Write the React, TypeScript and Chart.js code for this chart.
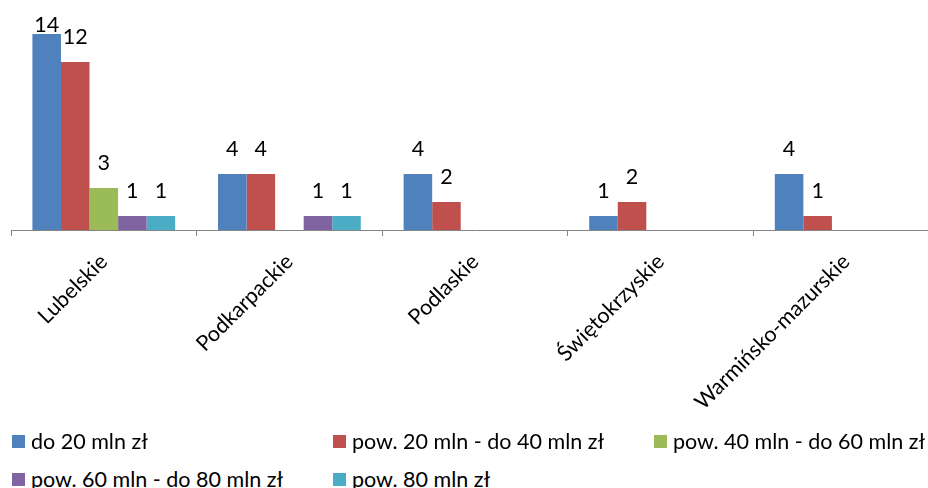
import React, { useEffect, useRef } from "react";
import { Chart, registerables } from "chart.js";

Chart.register(...registerables);

const regions = ["Lubelskie", "Podkarpackie", "Podlaskie", "Świętokrzyskie", "Warmińsko-mazurskie"];

const seriesNames = [
  "do 20 mln zł",
  "pow. 20 mln - do 40 mln zł",
  "pow. 40 mln - do 60 mln zł",
  "pow. 60 mln - do 80 mln zł",
  "pow. 80 mln zł",
];
const seriesColors = ["#4F81BD", "#C0504D", "#9BBB59", "#8064A2", "#4BACC6"];

const do20 = [14, 4, 4, 1, 4];
const pow20do40 = [12, 4, 2, 2, 1];
const pow40do60 = [3, null, null, null, null];
const pow60do80 = [1, 1, null, null, null];
const pow80 = [1, 1, null, null, null];

const seriesValues = [do20, pow20do40, pow40do60, pow60do80, pow80];

const FONT = "Lato, 'Open Sans', sans-serif";
const FONT_SIZE = 21.5;

// Writes each bar's value above it, kept inside the top of the plot
const valueLabels = {
  id: "valueLabels",
  afterDatasetsDraw(chart: any) {
    const ctx = chart.ctx;
    ctx.save();
    ctx.font = `${FONT_SIZE}px ${FONT}`;
    ctx.fillStyle = "#000";
    ctx.textAlign = "center";
    ctx.textBaseline = "alphabetic";
    chart.data.datasets.forEach((ds: any, i: number) => {
      const meta = chart.getDatasetMeta(i);
      meta.data.forEach((bar: any, j: number) => {
        const v = ds.data[j];
        if (v === null || v === undefined) return;
        const y = Math.max(bar.y - 18, 32);
        ctx.fillText(String(v), bar.x, y);
      });
    });
    ctx.restore();
  },
};

export default function App() {
  const canvasRef = useRef<HTMLCanvasElement | null>(null);

  useEffect(() => {
    if (!canvasRef.current) return;
    const chart = new Chart(canvasRef.current, {
      type: "bar",
      data: {
        labels: regions,
        datasets: seriesValues.map((values, i) => ({
          label: seriesNames[i],
          data: values,
          backgroundColor: seriesColors[i],
          borderWidth: 0,
          categoryPercentage: 1 / 1.3,
          barPercentage: 1,
        })),
      },
      options: {
        animation: false,
        responsive: false,
        layout: { padding: { left: 11, right: 11, top: 6, bottom: 0 } },
        plugins: {
          legend: { display: false },
          tooltip: { enabled: false },
        },
        scales: {
          x: {
            grid: {
              offset: true,
              drawOnChartArea: false,
              drawTicks: true,
              tickLength: 6,
              color: "#868686",
              lineWidth: 1,
            },
            border: { color: "#868686", width: 1 },
            ticks: {
              minRotation: 45,
              maxRotation: 45,
              autoSkip: false,
              color: "#000",
              padding: 13,
              font: { family: FONT, size: FONT_SIZE },
            },
            afterFit: (scale: any) => {
              scale.height = 200;
            },
          },
          y: { display: false, min: 0, max: 16 },
        },
      },
      plugins: [valueLabels],
    });
    return () => chart.destroy();
  }, []);

  const legendItems = seriesNames.map((name, i) => {
    const col = i % 3;
    const row = Math.floor(i / 3);
    return (
      <div
        key={name}
        style={{
          position: "absolute",
          left: 12 + col * 321,
          top: 428 + row * 38,
          display: "flex",
          alignItems: "center",
          whiteSpace: "nowrap",
          fontFamily: FONT,
          fontSize: FONT_SIZE,
          color: "#000",
          lineHeight: "26px",
        }}
      >
        <span
          style={{
            display: "inline-block",
            width: 13,
            height: 13,
            background: seriesColors[i],
            marginRight: 6,
          }}
        />
        {name}
      </div>
    );
  });

  return (
    <div
      style={{
        position: "absolute",
        left: 0,
        top: 0,
        width: 928,
        height: 488,
        overflow: "hidden",
        background: "#fff",
      }}
    >
      <canvas ref={canvasRef} width={950} height={430} style={{ display: "block" }} />
      {legendItems}
    </div>
  );
}
